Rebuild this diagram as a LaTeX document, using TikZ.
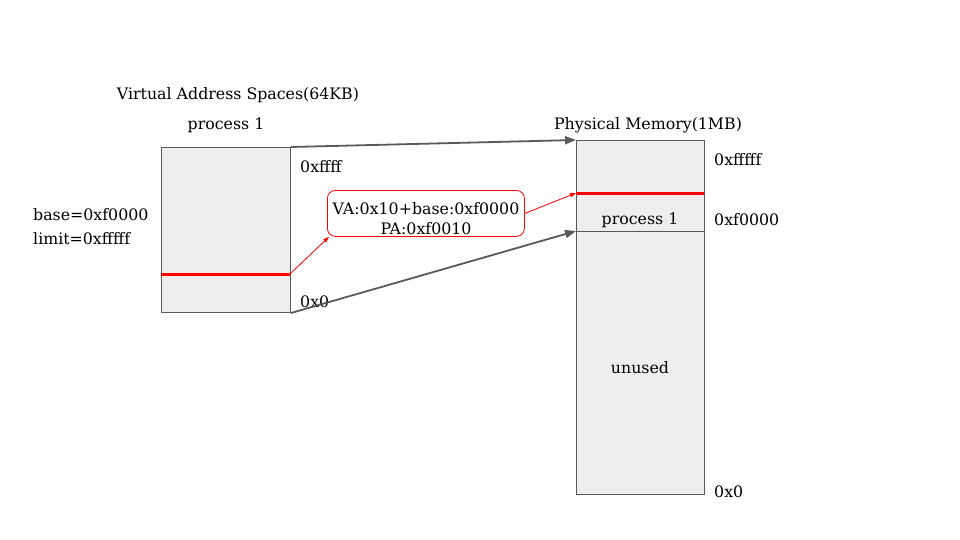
\documentclass[tikz,border=0pt]{standalone}
\usepackage{fontspec}
\setmainfont{DejaVu Serif}
\usetikzlibrary{positioning,arrows.meta}
\definecolor{memfill}{HTML}{EEEEEE}
\definecolor{memline}{HTML}{595959}
\tikzstyle{mem}=[draw=memline,fill=memfill,line width=1pt,inner sep=0,anchor=north west]
\tikzstyle{lbl}=[inner sep=0,font=\fontsize{15.8}{19}\selectfont]

\begin{document}
\begin{tikzpicture}[
    x=1pt,y=-1pt,
    map/.style={draw=memline,line width=1.8pt,-{Triangle[length=11pt,width=8pt]}},
    va2pa/.style={draw=red,line width=0.8pt,-{Triangle[length=6pt,width=4pt]}},
    seg/.style={draw=red,line width=3pt}
    ]
    \useasboundingbox (0,0) rectangle (960,540);

    % virtual address space
    \node[mem,minimum width=129pt,minimum height=165pt] (vas) at (161,147) {};
    \coordinate (vaL) at (161,274);
    \coordinate (vaR) at (290,274);
    \draw[seg] (vaL) -- (vaR);
    \node[lbl] (vastitle) at (238,95) {Virtual Address Spaces(64KB)};
    \node[lbl] (vasproc) at (226,125) {process 1};
    \node[lbl,anchor=west] (vastop) at (300,167) {0xffff};
    \node[lbl,anchor=west] (vasbot) at (300,302) {0x0};
    \node[lbl,anchor=west,align=left,font=\fontsize{15.8}{24}\selectfont] (reg) at (33,227) {base=0xf0000\\limit=0xfffff};

    % physical memory
    \node[mem,minimum width=128pt,minimum height=354pt] (pm) at (576,140) {};
    \coordinate (paL) at (576,193);
    \coordinate (paR) at (704,193);
    \coordinate (segL) at (576,231);
    \coordinate (segR) at (704,231);
    \draw[memline,line width=1pt] (segL) -- (segR);
    \draw[seg] (paL) -- (paR);
    \node[lbl] (pmtitle) at (648,125) {Physical Memory(1MB)};
    \node[lbl] (pmproc) at (640,220) {process 1};
    \node[lbl] (unused) at (640,368) {unused};
    \node[lbl,anchor=west] (pmtop) at (714,160) {0xfffff};
    \node[lbl,anchor=west] (pmseg) at (714,220) {0xf0000};
    \node[lbl,anchor=west] (pmbot) at (714,492) {0x0};

    % translation
    \node[draw=red,line width=0.8pt,rounded corners=8pt,inner sep=0,anchor=north west,
      minimum width=197pt,minimum height=46pt] (calc) at (327,190) {};
    \node[lbl] (vaexpr) at (426,209) {VA:0x10+base:0xf0000};
    \node[lbl] (paexpr) at (426,229) {PA:0xf0010};

    % arrows
    \draw[map] (vas.north east) -- (pm.north west);
    \draw[map] (vas.south east) -- (segL);
    \draw[va2pa] (vaR) -- ([xshift=2pt]calc.south west);
    \draw[va2pa] (calc.east) -- (paL);

  \end{tikzpicture}
\end{document}
